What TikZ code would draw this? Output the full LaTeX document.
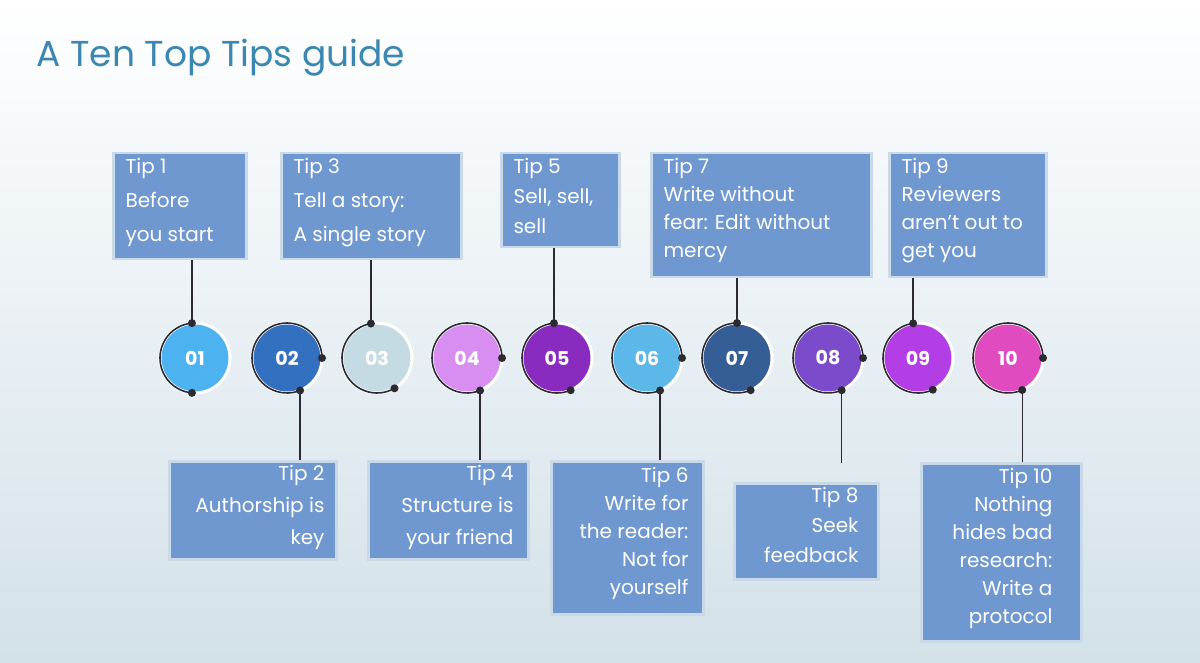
\documentclass[tikz,border=0pt]{standalone}
\usepackage{fontspec}
\setmainfont{Poppins}
\usetikzlibrary{calc}
\definecolor{boxc}{HTML}{6F97D0}
\definecolor{boxb}{HTML}{C9D9E8}
\definecolor{titc}{HTML}{3A87B2}
\definecolor{bgb}{HTML}{D3E1E9}
\definecolor{arcc}{HTML}{2A2A30}
\begin{document}
\begin{tikzpicture}[x=1pt,y=-1pt,
  box/.style={fill=boxc,draw=boxb,line width=2.5pt,text=white,font=\fontsize{20}{28}\selectfont,inner sep=0pt,anchor=north west},
  circ/.style={circle,minimum size=70pt,inner sep=0pt,draw=white,line width=3pt,text=white,font=\bfseries\fontsize{19}{20}\selectfont},
  arcl/.style={draw=arcc,line width=1.6pt},
  dotc/.style={fill=arcc},
  conn/.style={draw=arcc,line width=1.4pt}]
\shade[top color=white,bottom color=bgb] (0,0) rectangle (1200,663);
\useasboundingbox (0,0) rectangle (1200,663);
\node[anchor=west,text=titc,font=\fontsize{36}{40}\selectfont] (title) at (33,58) {A Ten Top Tips guide};
% boxes
\node[box,minimum width=133pt,minimum height=106pt] (b1) at (112,152) {};
\node[anchor=north west,text=white,align=left,font=\fontsize{20}{34}\selectfont] (t1) at (122,155) {Tip 1\\Before\\you start};
\node[box,minimum width=180pt,minimum height=106pt] (b3) at (280,152) {};
\node[anchor=north west,text=white,align=left,font=\fontsize{20}{34}\selectfont] (t3) at (290,155) {Tip 3\\Tell a story:\\A single story};
\node[box,minimum width=118pt,minimum height=94pt] (b5) at (500,152) {};
\node[anchor=north west,text=white,align=left,font=\fontsize{20}{30}\selectfont] (t5) at (510,155) {Tip 5\\Sell, sell,\\sell};
\node[box,minimum width=220pt,minimum height=124pt] (b7) at (650,152) {};
\node[anchor=north west,text=white,align=left,font=\fontsize{20}{28}\selectfont] (t7) at (660,155) {Tip 7\\Write without\\fear: Edit without\\mercy};
\node[box,minimum width=157pt,minimum height=124pt] (b9) at (888,152) {};
\node[anchor=north west,text=white,align=left,font=\fontsize{20}{28}\selectfont] (t9) at (898,155) {Tip 9\\Reviewers\\aren’t out to\\get you};
\node[box,minimum width=167pt,minimum height=98pt] (b2) at (168,460) {};
\node[anchor=north east,text=white,align=right,font=\fontsize{20}{32}\selectfont] (t2) at (328,462) {Tip 2\\Authorship is\\key};
\node[box,minimum width=160pt,minimum height=98pt] (b4) at (367,460) {};
\node[anchor=north east,text=white,align=right,font=\fontsize{20}{32}\selectfont] (t4) at (517,462) {Tip 4\\Structure is\\your friend};
\node[box,minimum width=152pt,minimum height=153pt] (b6) at (550,460) {};
\node[anchor=north east,text=white,align=right,font=\fontsize{20}{28}\selectfont] (t6) at (692,464) {Tip 6\\Write for\\the reader:\\Not for\\yourself};
\node[box,minimum width=144pt,minimum height=96pt] (b8) at (733,482) {};
\node[anchor=north east,text=white,align=right,font=\fontsize{20}{30}\selectfont] (t8) at (862,484) {Tip 8\\Seek\\feedback};
\node[box,minimum width=160pt,minimum height=178pt] (b10) at (920,462) {};
\node[anchor=north east,text=white,align=right,font=\fontsize{20}{28}\selectfont] (t10) at (1056,465) {Tip 10\\Nothing\\hides bad\\research:\\Write a\\protocol};
% circles
\foreach \n/\x/\c/\a/\b in {01/195/4DB3F0/95/265, 02/287/3470C0/0/292, 03/377/C5DBE3/100/300, 04/467/D88EF0/0/292, 05/557/8A2BBF/95/293, 06/647/5DB8EA/0/292, 07/737/355E96/90/293, 08/828/7B4BCC/0/293, 09/918/B43EE6/98/295, 10/1008/E04CC0/0/294}{
  \definecolor{cc}{HTML}{\c}
  \node[circ,fill=cc] (c\n) at (\x,358) {\n};
  \draw[arcl] ($(c\n.center)+(\a:35 and -35)$) coordinate (s\n) arc[start angle=-\a,end angle=-\b,radius=35] coordinate (e\n);
  \fill[dotc] (s\n) circle (4);
  \fill[dotc] (e\n) circle (4);
}
% connectors
\draw[conn] (s01) -- (s01 |- b1.south);
\draw[conn] (s03) -- (s03 |- b3.south);
\draw[conn] (s05) -- (s05 |- b5.south);
\draw[conn] (s07) -- (s07 |- b7.south);
\draw[conn] (s09) -- (s09 |- b9.south);
\draw[conn] (e02) -- (e02 |- b2.north);
\draw[conn] (e04) -- (e04 |- b4.north);
\draw[conn] (e06) -- (e06 |- b6.north);
\coordinate (end8) at ($(e08)+(0,73)$);
\draw[conn] (e08) -- (end8);
\draw[conn] (e10) -- (e10 |- b10.north);
\end{tikzpicture}
\end{document}
